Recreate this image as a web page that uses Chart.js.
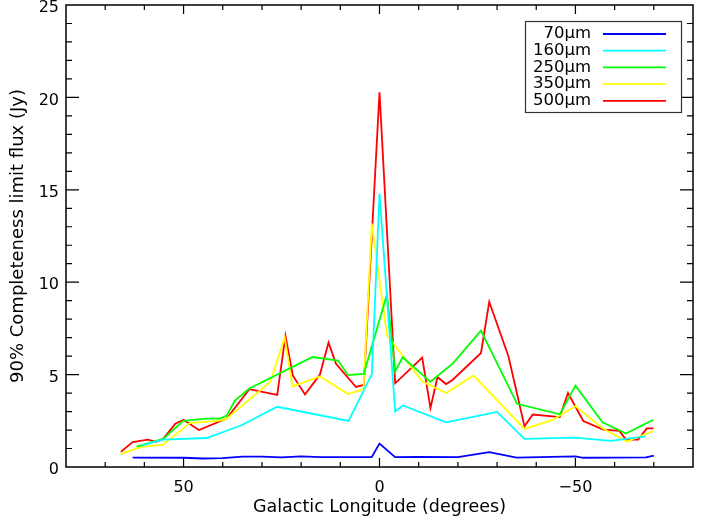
<!DOCTYPE html>
<html>
<head>
<meta charset="utf-8">
<script src="https://cdn.jsdelivr.net/npm/chart.js@4.4.0/dist/chart.umd.min.js"></script>
<style>
  html, body { margin: 0; padding: 0; background: #fff; }
  #wrap { width: 708px; height: 519px; }
</style>
</head>
<body>
<div id="wrap"><canvas id="chart" width="708" height="519"></canvas></div>
<script>
// longitude (deg) and 90% completeness flux (Jy) per band
const lon70 = [63.0, 50.0, 45.0, 40.0, 35.0, 30.0, 25.0, 20.0, 15.0, 10.0, 2.0, 0.0, -4.0, -10.0, -20.0, -28.0, -35.0, -50.0, -52.0, -68.0, -70.0];
const flux70 = [0.51, 0.50, 0.46, 0.48, 0.56, 0.56, 0.52, 0.58, 0.53, 0.53, 0.53, 1.27, 0.53, 0.55, 0.53, 0.80, 0.51, 0.58, 0.50, 0.52, 0.62];

const lon160 = [60.8, 55.2, 44.1, 35.2, 26.1, 7.9, 1.95, 0.0, -4.0, -6.0, -17.0, -30.0, -37.0, -50.0, -59.0, -67.9];
const flux160 = [1.16, 1.48, 1.57, 2.26, 3.26, 2.49, 5.03, 14.79, 3.00, 3.33, 2.42, 2.98, 1.52, 1.59, 1.41, 1.66];

const lon250 = [62.0, 55.2, 50.1, 44.1, 40.7, 39.0, 36.9, 33.2, 17.1, 10.6, 8.0, 4.0, -1.9, -4.0, -5.9, -13.0, -18.8, -25.9, -35.1, -46.0, -50.0, -56.9, -62.9, -69.9];
const flux250 = [1.10, 1.52, 2.50, 2.62, 2.62, 2.78, 3.59, 4.25, 5.95, 5.76, 4.97, 5.04, 9.34, 5.17, 5.94, 4.61, 5.62, 7.38, 3.42, 2.85, 4.40, 2.42, 1.81, 2.56];

const lon350 = [66.0, 60.7, 55.2, 48.4, 40.7, 39.0, 27.9, 24.2, 22.2, 15.2, 8.0, 4.1, 1.95, -1.9, -10.9, -17.0, -24.0, -37.0, -44.1, -50.0, -56.9, -63.1, -69.9];
const flux350 = [0.71, 1.09, 1.21, 2.38, 2.51, 2.62, 4.60, 7.00, 4.36, 4.90, 3.95, 4.22, 13.17, 7.15, 4.63, 4.00, 4.95, 2.06, 2.54, 3.30, 2.10, 1.38, 1.95];

const lon500 = [66.0, 63.0, 59.1, 57.0, 55.2, 52.1, 50.0, 46.1, 39.0, 33.2, 26.1, 24.0, 22.1, 19.0, 15.2, 13.0, 11.1, 6.0, 4.0, 0.0, -4.0, -10.9, -13.0, -14.8, -17.0, -18.7, -25.9, -28.0, -32.9, -37.0, -39.1, -46.0, -48.1, -52.0, -57.1, -61.2, -62.9, -66.0, -68.2, -69.9];
const flux500 = [0.82, 1.35, 1.48, 1.36, 1.52, 2.34, 2.56, 2.00, 2.62, 4.21, 3.90, 7.10, 4.94, 3.93, 5.00, 6.73, 5.58, 4.33, 4.45, 20.27, 4.53, 5.92, 3.19, 4.86, 4.49, 4.72, 6.17, 8.94, 5.99, 2.20, 2.84, 2.70, 4.00, 2.49, 2.02, 1.95, 1.48, 1.48, 2.09, 2.09];

const bandLabels = ['70\u03bcm', '160\u03bcm', '250\u03bcm', '350\u03bcm', '500\u03bcm'];
const bandColors = ['#0000ff', '#00ffff', '#00ff00', '#ffff00', '#ff0000'];

const xTicksMajor = [50, 0, -50];
const yTicksMajor = [0, 5, 10, 15, 20, 25];

function toPoints(xs, ys) {
    return xs.map((x, i) => ({ x: x, y: ys[i] }));
}

const series = [
    toPoints(lon70, flux70),
    toPoints(lon160, flux160),
    toPoints(lon250, flux250),
    toPoints(lon350, flux350),
    toPoints(lon500, flux500)
];

const FONT = 'DejaVu Sans';

// frame with inward ticks on all four sides
const framePlugin = {
    id: 'frame',
    afterDatasetsDraw(chart) {
        const ctx = chart.ctx;
        const a = chart.chartArea;
        const xs = chart.scales.x;
        const ys = chart.scales.y;
        ctx.save();
        ctx.strokeStyle = '#000';
        ctx.lineWidth = 1.5;
        ctx.strokeRect(a.left, a.top, a.right - a.left, a.bottom - a.top);
        ctx.lineWidth = 1.2;
        ctx.beginPath();
        for (let v = -70; v <= 70; v += 10) {
            const px = xs.getPixelForValue(v);
            const len = xTicksMajor.includes(v) ? 9 : 5;
            ctx.moveTo(px, a.bottom); ctx.lineTo(px, a.bottom - len);
            ctx.moveTo(px, a.top); ctx.lineTo(px, a.top + len);
        }
        for (let v = 1; v < 25; v += 1) {
            const py = ys.getPixelForValue(v);
            const len = yTicksMajor.includes(v) ? 13 : 6;
            ctx.moveTo(a.left, py); ctx.lineTo(a.left + len, py);
            ctx.moveTo(a.right, py); ctx.lineTo(a.right - len, py);
        }
        ctx.stroke();
        ctx.restore();
    }
};

// legend box in upper right corner
const legendPlugin = {
    id: 'boxLegend',
    afterDraw(chart) {
        const ctx = chart.ctx;
        ctx.save();
        ctx.fillStyle = '#fff';
        ctx.fillRect(525.5, 21.5, 156, 91);
        ctx.strokeStyle = '#333';
        ctx.lineWidth = 1.2;
        ctx.strokeRect(525.5, 21.5, 156, 91);
        ctx.font = '16.5px "' + FONT + '"';
        ctx.textAlign = 'right';
        ctx.textBaseline = 'middle';
        chart.data.datasets.forEach((ds, i) => {
            const y = 34 + i * 16.7;
            ctx.fillStyle = '#000';
            ctx.fillText(ds.label, 591, y);
            ctx.strokeStyle = ds.borderColor;
            ctx.lineWidth = 1.8;
            ctx.beginPath();
            ctx.moveTo(603, y);
            ctx.lineTo(666, y);
            ctx.stroke();
        });
        ctx.restore();
    }
};

new Chart(document.getElementById('chart'), {
    type: 'line',
    data: {
        datasets: series.map((pts, i) => ({
            label: bandLabels[i],
            data: pts,
            borderColor: bandColors[i],
            borderWidth: 1.8,
            pointRadius: 0,
            tension: 0,
            fill: false
        }))
    },
    options: {
        responsive: false,
        animation: false,
        events: [],
        layout: { padding: { top: 5, right: 15, left: 0, bottom: 0 } },
        plugins: {
            legend: { display: false },
            tooltip: { enabled: false }
        },
        scales: {
            x: {
                type: 'linear',
                reverse: true,
                min: -80,
                max: 80,
                grid: { display: false, drawTicks: false },
                border: { display: false },
                ticks: {
                    stepSize: 10,
                    autoSkip: false,
                    maxRotation: 0,
                    padding: 11,
                    color: '#000',
                    font: { family: FONT, size: 16 },
                    callback: v => xTicksMajor.includes(v) ? String(v).replace('-', '\u2212') : ''
                },
                title: {
                    display: true,
                    text: 'Galactic Longitude (degrees)',
                    color: '#000',
                    font: { family: FONT, size: 17.5 },
                    padding: { top: 4, bottom: 1 }
                },
                afterFit: s => { s.height = 52; s.paddingLeft = 0; s.paddingRight = 0; }
            },
            y: {
                type: 'linear',
                min: 0,
                max: 25,
                grid: { display: false, drawTicks: false },
                border: { display: false },
                ticks: {
                    stepSize: 1,
                    autoSkip: false,
                    padding: 7,
                    labelOffset: 3,
                    color: '#000',
                    font: { family: FONT, size: 16 },
                    callback: v => yTicksMajor.includes(v) ? String(v) : ''
                },
                title: {
                    display: true,
                    text: '90% Completeness limit flux (Jy)',
                    color: '#000',
                    font: { family: FONT, size: 18 },
                    padding: { top: 8, bottom: 0 }
                },
                afterFit: s => { s.width = 66; s.paddingTop = 0; s.paddingBottom = 0; }
            }
        }
    },
    plugins: [framePlugin, legendPlugin]
});
</script>
</body>
</html>
